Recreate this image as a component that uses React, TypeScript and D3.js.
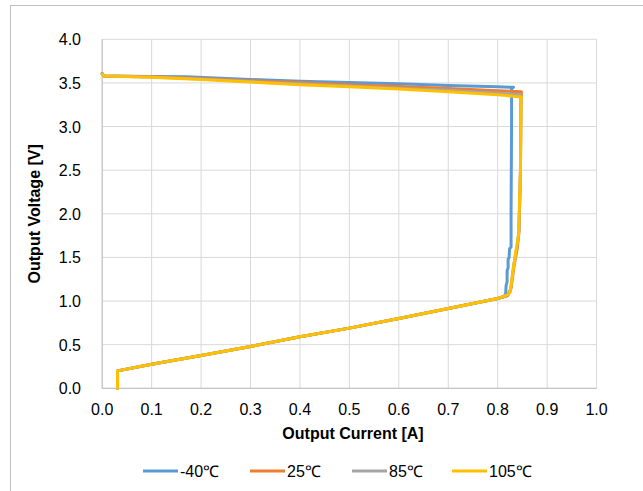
import React from "react";
import * as d3 from "d3";

const xTicks = [0, 0.1, 0.2, 0.3, 0.4, 0.5, 0.6, 0.7, 0.8, 0.9, 1.0];
const yTicks = [0, 0.5, 1.0, 1.5, 2.0, 2.5, 3.0, 3.5, 4.0];
const seriesNames = ["-40\u2103", "25\u2103", "85\u2103", "105\u2103"];
const seriesColors = ["#5B9BD5", "#ED7D31", "#A5A5A5", "#FFC000"];

// shared foldback segment (current [A], voltage [V])
const foldback: [number, number][] = [
  [0.8, 1.03], [0.7, 0.915], [0.6, 0.8], [0.5, 0.69], [0.4, 0.59],
  [0.3, 0.48], [0.2, 0.375], [0.1, 0.275], [0.031, 0.2], [0.031, 0.0],
];

const minus40: [number, number][] = [
  [0.0, 3.61], [0.003, 3.58], [0.1, 3.575], [0.17, 3.57], [0.3, 3.54], [0.4, 3.52],
  [0.5, 3.505], [0.6, 3.49], [0.7, 3.47], [0.8, 3.455], [0.832, 3.45],
  [0.828, 3.44], [0.828, 3.0], [0.827, 2.0], [0.827, 1.62], [0.824, 1.6],
  [0.823, 1.5], [0.821, 1.48], [0.821, 1.38], [0.819, 1.35], [0.819, 1.22],
  [0.817, 1.18], [0.816, 1.08], [0.812, 1.05],
];

const plus25: [number, number][] = [
  [0.0, 3.6], [0.003, 3.58], [0.1, 3.57], [0.2, 3.55], [0.3, 3.525], [0.4, 3.505],
  [0.5, 3.48], [0.6, 3.46], [0.7, 3.435], [0.8, 3.41], [0.848, 3.4],
  [0.847, 3.3], [0.846, 2.5], [0.843, 1.8], [0.84, 1.62], [0.833, 1.4],
  [0.827, 1.15], [0.82, 1.06],
];

const plus85: [number, number][] = [
  [0.0, 3.6], [0.003, 3.58], [0.1, 3.568], [0.2, 3.545], [0.3, 3.515], [0.4, 3.49],
  [0.5, 3.465], [0.6, 3.44], [0.7, 3.415], [0.8, 3.385], [0.846, 3.365],
  [0.847, 3.3], [0.846, 2.5], [0.843, 1.8], [0.839, 1.62], [0.832, 1.4],
  [0.826, 1.12], [0.82, 1.065],
];

const plus105: [number, number][] = [
  [0.0, 3.6], [0.003, 3.58], [0.1, 3.565], [0.2, 3.54], [0.3, 3.51], [0.4, 3.48],
  [0.5, 3.455], [0.6, 3.43], [0.7, 3.4], [0.8, 3.365], [0.847, 3.34],
  [0.847, 3.3], [0.846, 2.5], [0.842, 1.75], [0.838, 1.62], [0.831, 1.35],
  [0.825, 1.1], [0.82, 1.07],
];

const seriesData = [minus40, plus25, plus85, plus105];

const W = 643;
const H = 491;
const x = d3.scaleLinear().domain([0, 1]).range([102.2, 596.6]);
const y = d3.scaleLinear().domain([0, 4]).range([388.3, 39.3]);

const line = d3
  .line<[number, number]>()
  .x((d) => x(d[0]))
  .y((d) => y(d[1]));

const legendX = [143, 250, 352, 452];

export default function App() {
  const font = "'Liberation Sans', Arial, sans-serif";
  return (
    <svg
      width={W}
      height={H}
      style={{ position: "absolute", left: 0, top: 0, background: "#fff" }}
      fontFamily={font}
    >
      <rect x={10.5} y={5.5} width={W + 20} height={H + 20} fill="#fff" stroke="#BFBFBF" strokeWidth={1} />
      {/* grid */}
      {xTicks.map((t) => (
        <line key={"gx" + t} x1={x(t)} x2={x(t)} y1={y(0)} y2={y(4)} stroke="#D9D9D9" strokeWidth={1} />
      ))}
      {yTicks.map((t) => (
        <line key={"gy" + t} x1={x(0)} x2={x(1)} y1={y(t)} y2={y(t)} stroke="#D9D9D9" strokeWidth={1} />
      ))}
      {/* axes */}
      <line x1={x(0)} x2={x(0)} y1={y(0)} y2={y(4)} stroke="#BFBFBF" strokeWidth={1} />
      <line x1={x(0)} x2={x(1)} y1={y(0)} y2={y(0)} stroke="#BFBFBF" strokeWidth={1} />
      {/* tick labels */}
      {xTicks.map((t) => (
        <text key={"tx" + t} x={x(t)} y={414.5} fontSize={16} textAnchor="middle" fill="#000">
          {d3.format(".1f")(t)}
        </text>
      ))}
      {yTicks.map((t) => (
        <text key={"ty" + t} x={81} y={y(t) + 6} fontSize={16} textAnchor="end" fill="#000">
          {d3.format(".1f")(t)}
        </text>
      ))}
      {/* series */}
      {seriesData.map((s, i) => (
        <path
          key={"s" + i}
          d={line([...s, ...foldback]) || ""}
          fill="none"
          stroke={seriesColors[i]}
          strokeWidth={3}
          strokeLinejoin="round"
          strokeLinecap="round"
        />
      ))}
      {/* axis titles */}
      <text x={353} y={439} fontSize={16} fontWeight="bold" textAnchor="middle" fill="#000">
        Output Current [A]
      </text>
      <text
        transform={`translate(40, ${(y(0) + y(4)) / 2}) rotate(-90)`}
        fontSize={16}
        fontWeight="bold"
        textAnchor="middle"
        fill="#000"
      >
        Output Voltage [V]
      </text>
      {/* legend */}
      {seriesNames.map((n, i) => (
        <g key={"lg" + i}>
          <line x1={legendX[i]} x2={legendX[i] + 35} y1={471} y2={471} stroke={seriesColors[i]} strokeWidth={3} />
          <text x={legendX[i] + 37} y={477} fontSize={16} fill="#000">
            {n}
          </text>
        </g>
      ))}
    </svg>
  );
}
